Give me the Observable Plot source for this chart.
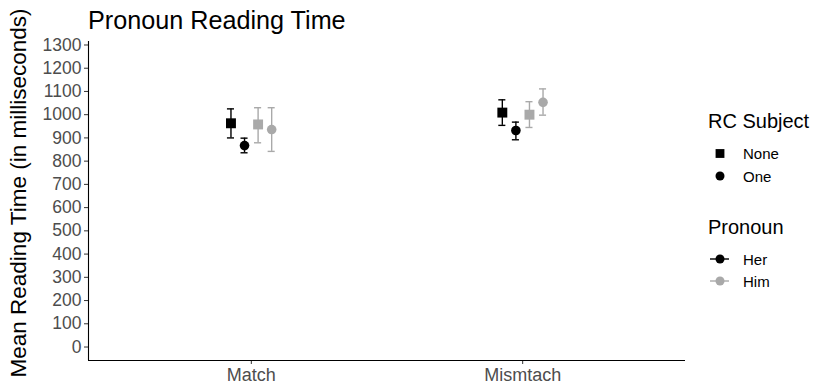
<!DOCTYPE html>
<html>
<head>
<meta charset="utf-8">
<script src="https://cdn.jsdelivr.net/npm/d3@7"></script>
<script src="https://cdn.jsdelivr.net/npm/@observablehq/plot@0.6"></script>
<style>
  html, body { margin: 0; padding: 0; background: #fff; }
  #chart { position: relative; width: 814px; height: 387px; }
</style>
</head>
<body>
<div id="chart"></div>
<script>
// ---- data ----
const conditions = ["Match", "Mismtach"];
const rcSubjects = ["None", "One"];
const pronouns = ["Her", "Him"];
// group order within each condition: None-Her, One-Her, None-Him, One-Him
const groupRc = ["None", "One", "None", "One"];
const groupPronoun = ["Her", "Her", "Him", "Him"];
const matchMean = [963, 867, 958, 936];
const matchLower = [900, 836, 879, 842];
const matchUpper = [1025, 899, 1030, 1030];
const mismatchMean = [1009, 932, 1000, 1053];
const mismatchLower = [954, 892, 945, 998];
const mismatchUpper = [1064, 968, 1056, 1111];
const yTicks = [0, 100, 200, 300, 400, 500, 600, 700, 800, 900, 1000, 1100, 1200, 1300];

// ---- build table with position_dodge-like offsets ----
const dodgeWidth = 0.2;
const nGroups = groupRc.length;
const rows = [];
const meansBy = [matchMean, mismatchMean];
const lowerBy = [matchLower, mismatchLower];
const upperBy = [matchUpper, mismatchUpper];
conditions.forEach((c, ci) => {
  for (let g = 0; g < nGroups; g++) {
    const offset = (g - (nGroups - 1) / 2) * (dodgeWidth / nGroups);
    rows.push({
      condition: c,
      xpos: ci + 1 + offset,
      rc: groupRc[g],
      pronoun: groupPronoun[g],
      mean: meansBy[ci][g],
      lower: lowerBy[ci][g],
      upper: upperBy[ci][g]
    });
  }
});
const capHalf = 0.013;
const FONT = "'Liberation Sans', Arial, sans-serif";
const tickColor = "#4D4D4D";
const colors = ["#000000", "#A9A9A9"];

const chart = Plot.plot({
  width: 814,
  height: 387,
  marginLeft: 88,
  marginRight: 129,
  marginTop: 41,
  marginBottom: 27,
  style: { fontFamily: FONT, background: "#fff", overflow: "visible" },
  x: { domain: [0.4, 2.6], axis: null },
  y: { domain: [-58, 1315], axis: null },
  color: { domain: pronouns, range: colors, legend: false },
  symbol: { domain: rcSubjects, range: ["square", "circle"] },
  marks: [
    Plot.axisY({ ticks: yTicks, tickFormat: d3.format("d"), tickSize: 4, tickPadding: 3, fontSize: 17.5, fill: tickColor, stroke: "#333", label: null }),
    Plot.axisX({ ticks: [1, 2], tickFormat: i => conditions[i - 1], tickSize: 4, tickPadding: 4, fontSize: 18, fill: tickColor, stroke: "#333", label: null }),
    Plot.ruleX([0.4], { y1: -58, y2: 1315, stroke: "#000", strokeWidth: 1.1 }),
    Plot.ruleY([-58], { x1: 0.4, x2: 2.6, stroke: "#000", strokeWidth: 1.1 }),
    // error bars
    Plot.ruleX(rows, { x: "xpos", y1: "lower", y2: "upper", stroke: "pronoun", strokeWidth: 1.4 }),
    Plot.ruleY(rows, { y: "lower", x1: d => d.xpos - capHalf, x2: d => d.xpos + capHalf, stroke: "pronoun", strokeWidth: 1.4 }),
    Plot.ruleY(rows, { y: "upper", x1: d => d.xpos - capHalf, x2: d => d.xpos + capHalf, stroke: "pronoun", strokeWidth: 1.4 }),
    // points
    Plot.dot(rows.filter(d => d.rc === "None"), { x: "xpos", y: "mean", symbol: "rc", r: 5.6, fill: "pronoun", stroke: "none" }),
    Plot.dot(rows.filter(d => d.rc === "One"), { x: "xpos", y: "mean", symbol: "rc", r: 4.8, fill: "pronoun", stroke: "none" })
  ]
});
document.getElementById("chart").appendChild(chart);

// ---- titles and legends ----
const svg = d3.select(chart);
svg.append("text")
  .attr("x", 88).attr("y", 29).attr("text-anchor", "start")
  .attr("font-family", FONT).attr("font-size", 25.2).attr("fill", "#000")
  .text("Pronoun Reading Time");
svg.append("text")
  .attr("transform", "translate(26,193) rotate(-90)")
  .attr("text-anchor", "middle")
  .attr("font-family", FONT).attr("font-size", 22.5).attr("fill", "#000")
  .text("Mean Reading Time (in milliseconds)");

const leg = svg.append("g").attr("font-family", FONT).attr("text-anchor", "start").attr("fill", "#000");
leg.append("text").attr("x", 708).attr("y", 128).attr("font-size", 20).text("RC Subject");
const symGen = d3.symbol();
const rcY = [153.5, 176];
rcSubjects.forEach((s, i) => {
  const cy = rcY[i];
  leg.append("path")
    .attr("transform", `translate(720,${cy})`)
    .attr("d", symGen.type(s === "None" ? d3.symbolSquare : d3.symbolCircle).size(s === "None" ? 78 : 64)())
    .attr("fill", "#000");
  leg.append("text").attr("x", 743).attr("y", cy + 5.5).attr("font-size", 15).text(s);
});
leg.append("text").attr("x", 708).attr("y", 233.5).attr("font-size", 20).text("Pronoun");
const prY = [259, 281];
pronouns.forEach((p, i) => {
  const cy = prY[i];
  leg.append("line").attr("x1", 710).attr("x2", 729).attr("y1", cy).attr("y2", cy)
    .attr("stroke", colors[i]).attr("stroke-width", 1.4);
  leg.append("path")
    .attr("transform", `translate(720,${cy})`)
    .attr("d", symGen.type(d3.symbolCircle).size(64)())
    .attr("fill", colors[i]);
  leg.append("text").attr("x", 743).attr("y", cy + 5.5).attr("font-size", 15).text(p);
});
</script>
</body>
</html>
